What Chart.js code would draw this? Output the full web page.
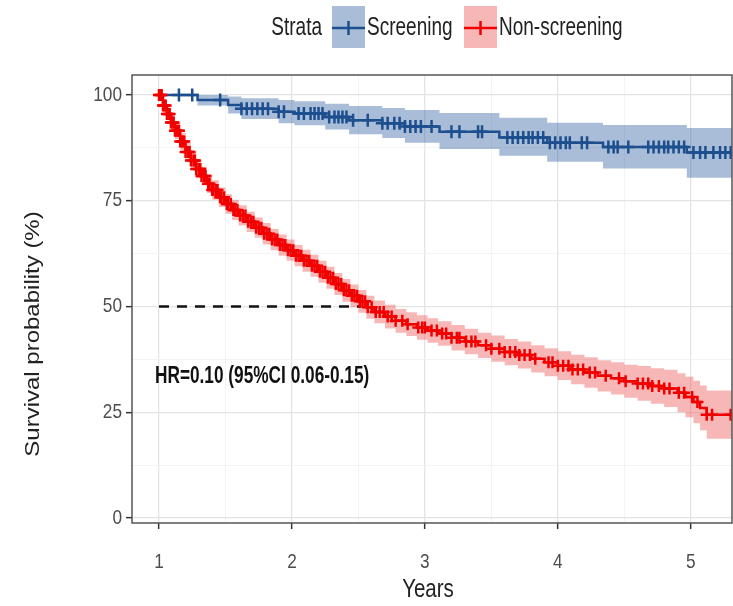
<!DOCTYPE html>
<html>
<head>
<meta charset="utf-8">
<script src="https://cdn.jsdelivr.net/npm/chart.js@4.4.1/dist/chart.umd.min.js"></script>
<style>
  body { margin: 0; background: #fff; }
  #survChart { display: block; }
</style>
</head>
<body>
<canvas id="survChart" width="733" height="606"></canvas>
<script>
// Kaplan-Meier curves: screening vs non-screening
const screenTime  = [1.0, 1.29, 1.52, 1.62, 1.9, 2.02, 2.25, 2.43, 2.68, 2.85, 3.11, 3.56, 3.92, 4.34, 4.97, 5.31];
const screenSurv  = [100, 98.8, 97.6, 96.7, 96.0, 95.6, 94.8, 94.0, 93.3, 92.5, 91.3, 89.9, 88.7, 87.7, 86.4, 86.4];
const screenUpper = [100, 100, 99.6, 99.2, 98.8, 98.5, 97.9, 97.4, 96.9, 96.4, 95.7, 94.6, 93.4, 92.9, 92.2, 92.2];
const screenLower = [100, 97.5, 95.6, 94.3, 93.3, 92.8, 91.8, 90.7, 89.8, 88.7, 87.2, 85.6, 84.2, 82.6, 80.4, 80.4];
const screenCensor = [1.15, 1.25, 1.46, 1.62, 1.66, 1.70, 1.74, 1.78, 1.82, 1.90, 1.94, 2.05, 2.09, 2.14, 2.17,
  2.20, 2.23, 2.28, 2.32, 2.35, 2.38, 2.41, 2.46, 2.57, 2.68, 2.72, 2.77, 2.81, 2.85, 2.89, 2.93, 2.97, 3.05,
  3.20, 3.26, 3.40, 3.43, 3.62, 3.66, 3.70, 3.74, 3.78, 3.81, 3.85, 3.89, 3.94, 3.98, 4.02, 4.06, 4.09, 4.18,
  4.22, 4.38, 4.42, 4.45, 4.53, 4.68, 4.72, 4.76, 4.80, 4.83, 4.87, 4.91, 4.95, 5.02, 5.07, 5.11, 5.17, 5.22,
  5.26, 5.30];

const nonTime  = [1.0, 1.03, 1.06, 1.09, 1.12, 1.16, 1.2, 1.24, 1.28, 1.32, 1.36, 1.4, 1.45, 1.5, 1.55, 1.6,
  1.66, 1.72, 1.78, 1.84, 1.9, 1.96, 2.02, 2.08, 2.14, 2.2, 2.26, 2.32, 2.38, 2.44, 2.5, 2.56, 2.62, 2.7, 2.78,
  2.86, 2.94, 3.02, 3.1, 3.2, 3.3, 3.4, 3.5, 3.6, 3.7, 3.8, 3.9, 4.0, 4.1, 4.2, 4.3, 4.4, 4.5, 4.6, 4.7, 4.8,
  4.9, 4.96, 5.02, 5.07, 5.12, 5.31];
const nonSurv  = [100, 97.5, 95.5, 93.5, 91.5, 89.0, 86.5, 84.5, 82.5, 80.8, 79.0, 77.5, 75.8, 74.2, 72.8, 71.5,
  70.0, 68.6, 67.2, 65.8, 64.5, 63.3, 62.0, 60.8, 59.6, 58.2, 56.8, 55.3, 53.8, 52.5, 51.2, 49.8, 48.7, 47.6, 46.6,
  45.8, 45.0, 44.3, 43.6, 42.6, 41.7, 40.8, 40.0, 39.2, 38.5, 37.6, 36.8, 36.0, 35.1, 34.4, 33.6, 33.0, 32.3, 31.8,
  31.2, 30.6, 29.6, 28.6, 27.4, 26.0, 24.4, 24.4];
const nonUpper = [100, 98.7, 97.0, 95.2, 93.4, 91.0, 88.6, 86.6, 84.7, 83.0, 81.2, 79.8, 78.1, 76.5, 75.2, 73.9,
  72.4, 71.0, 69.7, 68.3, 67.0, 65.8, 64.5, 63.4, 62.2, 60.8, 59.4, 57.9, 56.5, 55.2, 53.9, 52.5, 51.4, 50.4, 49.4,
  48.6, 47.9, 47.2, 46.5, 45.6, 44.7, 43.8, 43.1, 42.3, 41.7, 40.8, 40.1, 39.4, 38.6, 38.0, 37.3, 36.8, 36.2, 35.9,
  35.4, 35.0, 34.2, 33.4, 32.4, 31.3, 30.1, 30.1];
const nonLower = [100, 96.3, 94.0, 91.8, 89.6, 87.0, 84.4, 82.4, 80.3, 78.6, 76.8, 75.2, 73.5, 71.9, 70.4, 69.1,
  67.6, 66.2, 64.7, 63.3, 62.0, 60.8, 59.5, 58.2, 57.0, 55.6, 54.2, 52.7, 51.1, 49.8, 48.5, 47.1, 46.0, 44.8, 43.8,
  43.0, 42.1, 41.4, 40.7, 39.6, 38.7, 37.8, 36.9, 36.1, 35.3, 34.4, 33.5, 32.6, 31.6, 30.8, 29.9, 29.2, 28.4, 27.7,
  27.0, 26.2, 25.0, 23.8, 22.4, 20.7, 18.7, 18.7];
const nonCensor = [1.00, 1.01, 1.02, 1.03, 1.04, 1.05, 1.06, 1.07, 1.08, 1.09, 1.10, 1.11, 1.12, 1.13, 1.14, 1.15,
  1.16, 1.17, 1.18, 1.19, 1.20, 1.22, 1.23, 1.24, 1.26, 1.27, 1.28, 1.30, 1.31, 1.32, 1.34, 1.35, 1.37, 1.38, 1.40,
  1.41, 1.43, 1.44, 1.46, 1.47, 1.49, 1.51, 1.52, 1.54, 1.56, 1.57, 1.59, 1.61, 1.63, 1.65, 1.67, 1.69, 1.71, 1.73,
  1.75, 1.77, 1.79, 1.81, 1.83, 1.85, 1.87, 1.89, 1.91, 1.93, 1.95, 1.97, 1.99, 2.01, 2.03, 2.05, 2.07, 2.09, 2.11,
  2.13, 2.15, 2.17, 2.19, 2.21, 2.23, 2.25, 2.27, 2.29, 2.31, 2.33, 2.35, 2.37, 2.39, 2.41, 2.43, 2.45, 2.47, 2.49,
  2.51, 2.53, 2.55, 2.57, 2.60, 2.63, 2.66, 2.69, 2.72, 2.75, 2.78, 2.83, 2.87, 2.95, 2.98, 3.00, 3.05, 3.09, 3.13,
  3.16, 3.20, 3.24, 3.26, 3.31, 3.35, 3.38, 3.46, 3.50, 3.56, 3.60, 3.64, 3.68, 3.71, 3.75, 3.79, 3.83, 3.93, 3.96,
  4.00, 4.04, 4.08, 4.11, 4.15, 4.19, 4.24, 4.28, 4.36, 4.46, 4.51, 4.60, 4.64, 4.68, 4.71, 4.76, 4.80, 4.84, 4.91,
  4.95, 5.01, 5.05, 5.12, 5.16, 5.30];

// median survival guide for the non-screening group
const medianX = [1.0, 2.52];
const medianY = [50, 50];

const xTicks = [1, 1.5, 2, 2.5, 3, 3.5, 4, 4.5, 5];
const yTicks = [0, 12.5, 25, 37.5, 50, 62.5, 75, 87.5, 100];

const hrText = 'HR=0.10 (95%CI 0.06-0.15)';
const strataTitle = 'Strata';
const strataNames = ['Screening', 'Non-screening'];

const BLUE = '#1d4f8e', BLUE_BAND = 'rgba(40,90,160,0.40)';
const RED = '#f20000', RED_BAND = 'rgba(240,95,95,0.45)';
const SANS = '"Liberation Sans", Arial, sans-serif';

const pts = (xs, ys) => xs.map((x, i) => ({ x: x, y: ys[i] }));

// value of a KM step curve at time t
function survAt(times, surv, t) {
  let s = surv[0];
  for (let i = 0; i < times.length; i++) {
    if (times[i] <= t) s = surv[i]; else break;
  }
  return s;
}
const censorPts = (c, times, surv) => c.map(t => ({ x: t, y: survAt(times, surv, t) }));

const band = (data, fill, color, order) => ({
  data: data, stepped: true, borderWidth: 0, pointRadius: 0,
  fill: fill, backgroundColor: color, order: order
});

// horizontally condensed text
function narrow(ctx, text, x, y, align, squeeze) {
  ctx.save();
  ctx.translate(x, y);
  ctx.scale(squeeze || 0.82, 1);
  ctx.textAlign = align;
  ctx.fillText(text, 0, 0);
  ctx.restore();
}

const decorations = {
  id: 'decorations',
  afterDraw(chart) {
    const { ctx, chartArea: a, scales } = chart;
    ctx.save();
    ctx.textBaseline = 'middle';

    // panel border
    ctx.strokeStyle = '#555';
    ctx.lineWidth = 1.5;
    ctx.strokeRect(a.left, a.top, a.right - a.left, a.bottom - a.top);

    // tick labels
    ctx.fillStyle = '#4d4d4d';
    ctx.font = '21px ' + SANS;
    xTicks.filter(Number.isInteger).forEach(v =>
      narrow(ctx, String(v), scales.x.getPixelForValue(v), 562, 'center'));
    yTicks.filter(v => v % 25 === 0).forEach(v =>
      narrow(ctx, String(v), a.left - 10, scales.y.getPixelForValue(v), 'right'));

    // hazard ratio label
    ctx.fillStyle = '#111';
    ctx.font = 'bold 23px ' + SANS;
    narrow(ctx, hrText, scales.x.getPixelForValue(0.97), scales.y.getPixelForValue(33.3), 'left', 0.75);

    // axis titles
    ctx.fillStyle = '#222';
    ctx.font = '25px ' + SANS;
    narrow(ctx, 'Years', (a.left + a.right) / 2 - 4, 590, 'center');
    ctx.save();
    ctx.translate(34, 334);
    ctx.rotate(-Math.PI / 2);
    ctx.scale(1, 0.82);
    ctx.font = '24px ' + SANS;
    ctx.textAlign = 'center';
    ctx.fillText('Survival probability (%)', 0, 0);
    ctx.restore();

    // legend
    const ly = 28;
    ctx.font = '25px ' + SANS;
    ctx.fillStyle = '#222';
    narrow(ctx, strataTitle, 322, ly, 'right', 0.76);
    const keys = [
      { x: 332, line: BLUE, fill: BLUE_BAND, label: strataNames[0] },
      { x: 464, line: RED, fill: RED_BAND, label: strataNames[1] }
    ];
    keys.forEach(k => {
      ctx.fillStyle = k.fill;
      ctx.fillRect(k.x, 6, 33, 42);
      ctx.strokeStyle = k.line;
      ctx.lineWidth = 2.5;
      ctx.beginPath();
      ctx.moveTo(k.x, ly); ctx.lineTo(k.x + 33, ly);
      ctx.moveTo(k.x + 16.5, ly - 7); ctx.lineTo(k.x + 16.5, ly + 7);
      ctx.stroke();
      ctx.fillStyle = '#222';
      narrow(ctx, k.label, k.x + 35, ly, 'left', 0.76);
    });
    ctx.restore();
  }
};

new Chart(document.getElementById('survChart'), {
  type: 'line',
  data: {
    datasets: [
      band(pts(screenTime, screenUpper), false, BLUE_BAND, 10),
      band(pts(screenTime, screenLower), '-1', BLUE_BAND, 10),
      band(pts(nonTime, nonUpper), false, RED_BAND, 10),
      band(pts(nonTime, nonLower), '-1', RED_BAND, 10),
      {
        data: pts(screenTime, screenSurv), stepped: true, borderColor: BLUE,
        borderWidth: 2.5, pointRadius: 0, fill: false, order: 4
      },
      {
        data: pts(nonTime, nonSurv), stepped: true, borderColor: RED,
        borderWidth: 2.5, pointRadius: 0, fill: false, order: 3
      },
      {
        data: pts(medianX, medianY), borderColor: '#111', borderWidth: 2.5,
        borderDash: [10, 8], pointRadius: 0, fill: false, order: 2
      },
      {
        data: censorPts(screenCensor, screenTime, screenSurv), showLine: false,
        pointStyle: 'cross', pointRadius: 6.5, borderColor: BLUE, borderWidth: 2.5, order: 1
      },
      {
        data: censorPts(nonCensor, nonTime, nonSurv), showLine: false,
        pointStyle: 'cross', pointRadius: 6, borderColor: RED, borderWidth: 2.5, order: 0
      }
    ]
  },
  options: {
    responsive: false,
    animation: false,
    layout: { autoPadding: false, padding: { top: 75, right: 1, left: 0, bottom: 0 } },
    plugins: { legend: { display: false }, tooltip: { enabled: false } },
    scales: {
      x: {
        type: 'linear', min: 0.797, max: 5.31,
        afterBuildTicks: s => { s.ticks = xTicks.map(v => ({ value: v })); },
        afterFit: s => { s.height = 83; s.paddingLeft = 0; s.paddingRight = 0; },
        border: { display: false },
        grid: {
          color: c => Number.isInteger(c.tick.value) ? '#e4e4e4' : '#f0f0f0',
          lineWidth: c => Number.isInteger(c.tick.value) ? 1.3 : 0.8,
          tickColor: c => Number.isInteger(c.tick.value) ? '#333' : 'rgba(0,0,0,0)',
          tickLength: 6, tickWidth: 1.5
        },
        ticks: { autoSkip: false, maxRotation: 0, callback: () => '' }
      },
      y: {
        min: -1.2, max: 104.7,
        afterBuildTicks: s => { s.ticks = yTicks.map(v => ({ value: v })); },
        afterFit: s => { s.width = 132; s.paddingTop = 0; s.paddingBottom = 0; },
        border: { display: false },
        grid: {
          color: c => c.tick.value % 25 === 0 ? '#e4e4e4' : '#f0f0f0',
          lineWidth: c => c.tick.value % 25 === 0 ? 1.3 : 0.8,
          tickColor: c => c.tick.value % 25 === 0 ? '#333' : 'rgba(0,0,0,0)',
          tickLength: 6, tickWidth: 1.5
        },
        ticks: { autoSkip: false, callback: () => '' }
      }
    }
  },
  plugins: [decorations]
});
</script>
</body>
</html>
